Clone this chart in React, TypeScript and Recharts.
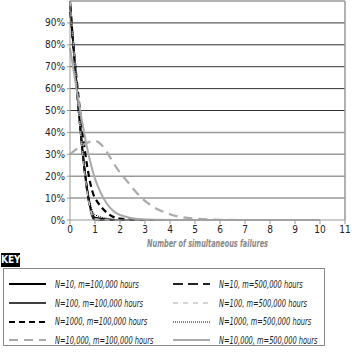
import React from "react";
import { LineChart, Line, XAxis, YAxis, CartesianGrid } from "recharts";

const failures = [0, 1, 2, 3, 4, 5, 6, 7, 8, 9, 10];
const n10m100k = [99.9, 0.1, 0, 0, 0, 0, 0, 0, 0, 0, 0];
const n100m100k = [98.8, 1.2, 0, 0, 0, 0, 0, 0, 0, 0, 0];
const n1000m100k = [95, 10, 0.6, 0, 0, 0, 0, 0, 0, 0, 0];
const n10000m100k = [30.1, 36.1, 21.7, 8.7, 2.6, 0.6, 0.1, 0, 0, 0, 0];
const n10m500k = [100, 0, 0, 0, 0, 0, 0, 0, 0, 0, 0];
const n100m500k = [99.8, 0.2, 0, 0, 0, 0, 0, 0, 0, 0, 0];
const n1000m500k = [97.6, 2.3, 0.1, 0, 0, 0, 0, 0, 0, 0, 0];
const n10000m500k = [78.7, 18.9, 2.3, 0.2, 0, 0, 0, 0, 0, 0, 0];

const xTicks = [0, 1, 2, 3, 4, 5, 6, 7, 8, 9, 10, 11];
const yTicks = [0, 10, 20, 30, 40, 50, 60, 70, 80, 90];
const darkGrid = [50, 60, 70, 80, 90];
const lightGrid = [10, 20, 30, 40, 100];

const seriesDefs = [
  { key: "a", label: "N=10, m=100,000 hours", values: n10m100k, stroke: "#000", width: 2, dash: undefined as string | undefined },
  { key: "b", label: "N=100, m=100,000 hours", values: n100m100k, stroke: "#000", width: 1.5, dash: undefined },
  { key: "c", label: "N=1000, m=100,000 hours", values: n1000m100k, stroke: "#000", width: 2.2, dash: "6 4" },
  { key: "d", label: "N=10,000, m=100,000 hours", values: n10000m100k, stroke: "#aaa", width: 2.2, dash: "9 6" },
  { key: "e", label: "N=10, m=500,000 hours", values: n10m500k, stroke: "#222", width: 2, dash: "10 5" },
  { key: "f", label: "N=100, m=500,000 hours", values: n100m500k, stroke: "#c8c8c8", width: 1.5, dash: "5 5" },
  { key: "g", label: "N=1000, m=500,000 hours", values: n1000m500k, stroke: "#000", width: 1, dash: "1 1" },
  { key: "h", label: "N=10,000, m=500,000 hours", values: n10000m500k, stroke: "#aaa", width: 2, dash: undefined },
];

const data = failures.map((x, i) => {
  const row: Record<string, number> = { x };
  seriesDefs.forEach((s) => {
    row[s.key] = s.values[i];
  });
  return row;
});

const FONT = "'DejaVu Sans Condensed', 'Liberation Sans', sans-serif";

const LegendItem = ({ s }: { s: (typeof seriesDefs)[number] }) => (
  <div style={{ display: "flex", alignItems: "center", height: 18.7 }}>
    <svg width={38} height={6} style={{ marginRight: 8 }}>
      <line x1={0} y1={3} x2={37} y2={3} stroke={s.stroke} strokeWidth={s.width} strokeDasharray={s.dash} />
    </svg>
    <span
      style={{
        fontStyle: "italic",
        fontSize: 10,
        color: "#222",
        whiteSpace: "nowrap",
        display: "inline-block",
        transform: "scaleX(0.74)",
        transformOrigin: "left center",
      }}
    >
      {s.label}
    </span>
  </div>
);

const AxisTitle = (props: any) => {
  const vb = props.viewBox || { x: 0, y: 0, width: 0, height: 0 };
  return (
    <text
      x={vb.x + vb.width / 2}
      y={vb.y + vb.height - 3}
      textAnchor="middle"
      fill="#888"
      fontSize={10}
      fontStyle="italic"
      fontWeight="bold"
      fontFamily={FONT}
      textLength={121}
      lengthAdjust="spacingAndGlyphs"
    >
      Number of simultaneous failures
    </text>
  );
};

export default function App() {
  return (
    <div style={{ position: "absolute", left: 0, top: 0, width: 352, height: 353, background: "#fff", fontFamily: FONT }}>
      <LineChart width={352} height={250} data={data} margin={{ top: 1, right: 7, left: 0, bottom: 0 }}>
        <CartesianGrid vertical={false} horizontalValues={darkGrid} stroke="#333" strokeWidth={1} />
        <CartesianGrid horizontalValues={lightGrid} verticalValues={[11]} stroke="#999" strokeWidth={1.5} />
        <XAxis
          dataKey="x"
          type="number"
          domain={[0, 11]}
          ticks={xTicks}
          interval={0}
          height={30}
          stroke="#999"
          tickSize={4}
          tick={{ fill: "#222", fontSize: 10, fontFamily: FONT }}
          label={<AxisTitle />}
        />
        <YAxis
          type="number"
          domain={[0, 100]}
          ticks={yTicks}
          interval={0}
          width={70}
          stroke="#999"
          tickSize={3}
          tickFormatter={(v: number) => `${v}%`}
          tick={{ fill: "#222", fontSize: 10, fontFamily: FONT }}
        />
        {seriesDefs.map((s) => (
          <Line
            key={s.key}
            dataKey={s.key}
            type="monotone"
            stroke={s.stroke}
            strokeWidth={s.width}
            strokeDasharray={s.dash}
            dot={false}
            activeDot={false}
            isAnimationActive={false}
          />
        ))}
      </LineChart>
      <div
        style={{
          position: "absolute",
          left: 1,
          top: 253,
          width: 19,
          height: 14,
          background: "#000",
          color: "#fff",
          fontSize: 10,
          fontWeight: "bold",
          lineHeight: "14px",
          textAlign: "center",
        }}
      >
        KEY
      </div>
      <div
        style={{
          position: "absolute",
          left: 3,
          top: 268,
          width: 322,
          height: 78,
          border: "1px solid #888",
          boxSizing: "border-box",
        }}
      >
        <div style={{ position: "absolute", left: 5, top: 6 }}>
          {seriesDefs.slice(0, 4).map((s) => (
            <LegendItem key={s.key} s={s} />
          ))}
        </div>
        <div style={{ position: "absolute", left: 169, top: 6 }}>
          {seriesDefs.slice(4).map((s) => (
            <LegendItem key={s.key} s={s} />
          ))}
        </div>
      </div>
    </div>
  );
}
